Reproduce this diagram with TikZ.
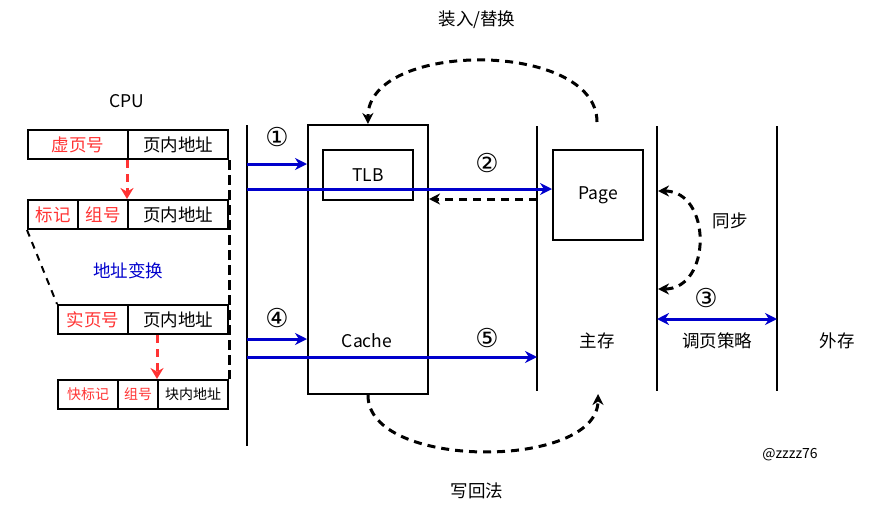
\documentclass[tikz,border=0pt]{standalone}
\usepackage{fontspec}
\setmainfont{Noto Sans CJK SC}
\newfontfamily\numfont{DejaVu Sans}
\usetikzlibrary{arrows.meta}
\definecolor{myblue}{HTML}{0000CC}
\definecolor{myred}{HTML}{FF3333}
\tikzset{
  cell/.style={draw, line width=2pt, minimum height=29pt, inner sep=0pt, anchor=north west, font=\fontsize{17.5}{17.5}\selectfont},
  smallcell/.style={cell, font=\fontsize{14}{14}\selectfont},
  redtxt/.style={text=myred},
  boxnode/.style={draw, line width=2pt, inner sep=0pt, anchor=north west},
  txt/.style={inner sep=0pt, font=\fontsize{17.5}{17.5}\selectfont},
  num/.style={inner sep=0pt, font=\numfont\fontsize{26}{26}\selectfont},
  vline/.style={line width=2pt},
  bluearrow/.style={draw=myblue, line width=3pt, -{Stealth[length=12pt,width=12pt]}},
  blueboth/.style={draw=myblue, line width=3pt, {Stealth[length=12pt,width=12pt]}-{Stealth[length=12pt,width=12pt]}},
  blackdash/.style={line width=3pt, dash pattern=on 8pt off 6pt},
  blackdasharrow/.style={blackdash, -{Stealth[length=11pt,width=11pt]}},
  reddasharrow/.style={draw=myred, line width=3pt, dash pattern=on 8pt off 6pt, -{Stealth[length=11pt,width=13pt]}},
}
\begin{document}
\begin{tikzpicture}[x=1pt,y=-1pt]
\useasboundingbox (0,0) rectangle (874,514);

% CPU address rows
\node[txt] (cpu) at (127,101) {CPU};
\node[cell, redtxt, minimum width=100pt] (r1a) at (27,129) {虚页号};
\node[cell, minimum width=100pt] (r1b) at (127,129) {页内地址};
\node[cell, redtxt, minimum width=50pt] (r2a) at (27,199) {标记};
\node[cell, redtxt, minimum width=50pt] (r2b) at (77,199) {组号};
\node[cell, minimum width=100pt] (r2c) at (127,199) {页内地址};
\node[txt, text=myblue] (trans) at (128,271) {地址变换};
\node[cell, redtxt, minimum width=70pt] (r3a) at (57,304) {实页号};
\node[cell, minimum width=100pt] (r3b) at (127,304) {页内地址};
\node[smallcell, redtxt, minimum width=60pt] (r4a) at (57,379) {快标记};
\node[smallcell, redtxt, minimum width=40pt] (r4b) at (117,379) {组号};
\node[smallcell, minimum width=70pt] (r4c) at (157,379) {块内地址};

\draw[reddasharrow] (r1b.south west) -- (r2c.north west);
\draw[reddasharrow] (r4c.north west |- r3b.south) -- (r4c.north west);
\draw[blackdash, line width=2pt, dash pattern=on 7pt off 6pt] (r2a.south west) -- (r3a.north west);
\draw[blackdash, line width=3pt, dash pattern=on 10pt off 5pt] (r1b.south east) -- (r4c.north east);

% vertical lines
\coordinate (v1t) at (247,125); \coordinate (v1b) at (247,446);
\coordinate (v2t) at (537,126); \coordinate (v2b) at (537,391);
\coordinate (v3t) at (657,126); \coordinate (v3b) at (657,391);
\coordinate (v4t) at (777,126); \coordinate (v4b) at (777,391);
\draw[vline] (v1t) -- (v1b);
\draw[vline] (v2t) -- (v2b);
\draw[vline] (v3t) -- (v3b);
\draw[vline] (v4t) -- (v4b);

% boxes
\node[boxnode, minimum width=120pt, minimum height=269pt] (cache) at (307,124) {};
\node[txt] (cachelbl) at (367,341) {Cache};
\node[boxnode, minimum width=90pt, minimum height=50pt, font=\fontsize{17.5}{17.5}\selectfont] (tlb) at (322,149) {TLB};
\node[boxnode, minimum width=90pt, minimum height=90pt, font=\fontsize{17.5}{17.5}\selectfont] (page) at (552,149) {Page};

% blue arrows
\coordinate (a1) at (247,164);
\coordinate (a2) at (247,189);
\coordinate (a4) at (247,339);
\coordinate (a5) at (247,357);
\coordinate (a5e) at (537,357);
\coordinate (b2) at (537,199);
\coordinate (a3s) at (657,319);
\coordinate (a3e) at (777,319);
\draw[bluearrow] (a1) -- (a1 -| cache.west);
\draw[bluearrow] (a2) -- (a2 -| page.west);
\draw[bluearrow] (a4) -- (a4 -| cache.west);
\draw[bluearrow] (a5) -- (a5e);
\draw[blueboth] (a3s) -- (a3e);
\draw[blackdasharrow] (b2) -- (b2 -| cache.east);

% numbers
\node[num] (n1) at (277,137) {①};
\node[num] (n2) at (487,163) {②};
\node[num] (n3) at (706,298) {③};
\node[num] (n4) at (277,318) {④};
\node[num] (n5) at (487,338) {⑤};

% curved dashed arrows
\coordinate (ctop) at (597,122);
\coordinate (cbot) at (598,394);
\coordinate (sy1) at (658,191);
\coordinate (sy2) at (658,289);
\draw[blackdasharrow] (ctop) .. controls (597,40) and (367,40) .. (cache.north);
\draw[blackdasharrow] (cache.south) .. controls (367,470) and (598,470) .. (cbot);
\draw[blackdash, {Stealth[length=11pt,width=11pt]}-{Stealth[length=11pt,width=11pt]}] (sy1) .. controls (712,191) and (712,289) .. (sy2);

% labels
\node[txt] (lzr) at (477,20) {装入/替换};
\node[txt] (ltb) at (730,221) {同步};
\node[txt] (lzc) at (597,341) {主存};
\node[txt] (ldy) at (717,341) {调页策略};
\node[txt] (lwc) at (837,341) {外存};
\node[txt] (lxh) at (477,491) {写回法};
\node[inner sep=0pt, font=\fontsize{14}{14}\selectfont] (sig) at (790,455) {@zzzz76};
\end{tikzpicture}
\end{document}
